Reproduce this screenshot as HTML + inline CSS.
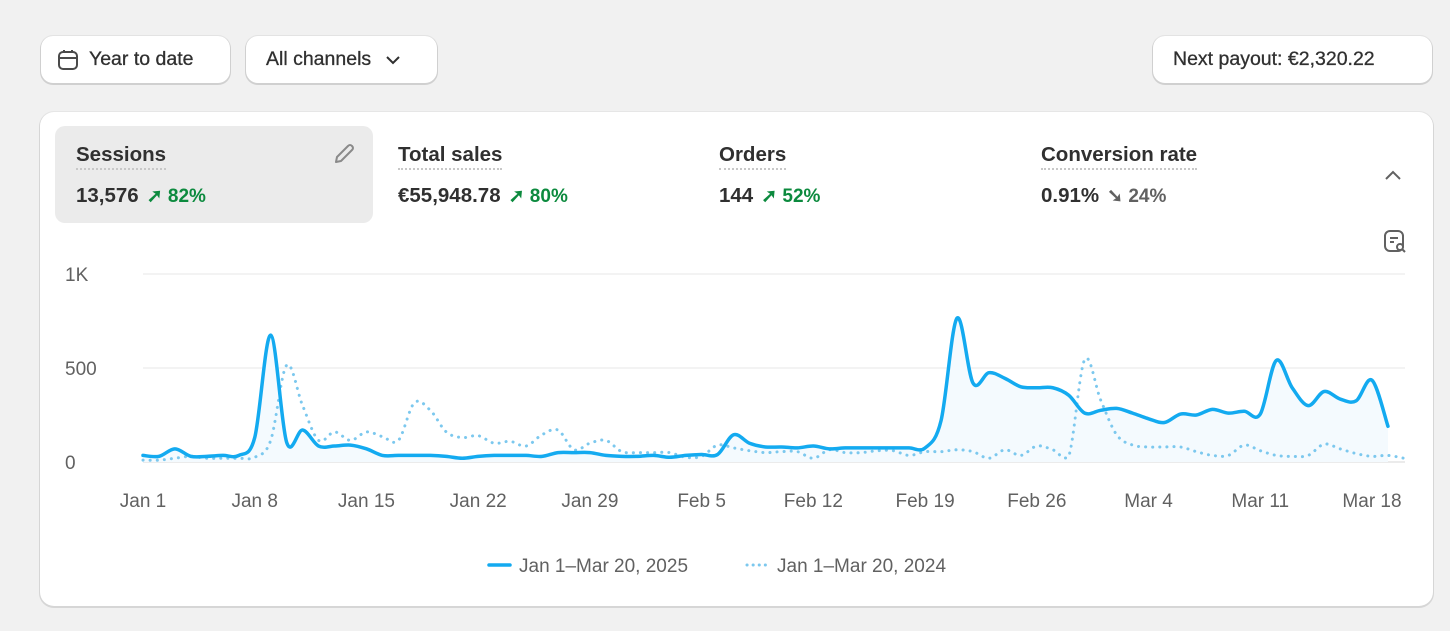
<!DOCTYPE html>
<html><head><meta charset="utf-8"><style>
*{box-sizing:border-box;margin:0;padding:0}
body{width:1450px;height:631px;background:#f1f1f1;font-family:"Liberation Sans",sans-serif;color:#303030;position:relative;overflow:hidden}
.btn{position:absolute;top:36px;height:47px;background:#fff;border-radius:12px;box-shadow:0 1px 0 1px #d0d0d0,0 0 0 1px #e3e3e3;font-size:19.5px;display:flex;align-items:center;color:#303030;-webkit-text-stroke:0.3px #303030}
.card{position:absolute;left:40px;top:112px;width:1393px;height:494px;background:#fff;border-radius:14px;box-shadow:0 1px 0 1px #d6d6d6,0 0 0 1px #e6e6e6}
.tab{position:absolute;top:126px;height:97px}
.tab .lbl{position:absolute;left:21px;top:17px;font-size:20.5px;font-weight:600;border-bottom:2px dotted #c8c8c8;padding-bottom:1px;line-height:24px}
.tab .val{position:absolute;left:21px;top:58px;font-size:20.5px;font-weight:600;white-space:nowrap;line-height:24px}
.up{color:#0c8a3e;font-size:19px;margin-left:8px}
.dn{color:#616161;font-size:19px;margin-left:8px}
svg text{font-family:"Liberation Sans",sans-serif}
</style></head><body>
<div class="btn" style="left:41px;width:189px;padding-left:16px">
<svg width="22" height="24" viewBox="0 0 22 24" style="margin-right:10px"><rect x="2" y="4" width="18" height="17" rx="4" fill="none" stroke="#4a4a4a" stroke-width="2"/><line x1="2" y1="10" x2="20" y2="10" stroke="#4a4a4a" stroke-width="2"/><line x1="7" y1="2" x2="7" y2="5" stroke="#4a4a4a" stroke-width="2"/><line x1="15" y1="2" x2="15" y2="5" stroke="#4a4a4a" stroke-width="2"/></svg>Year to date</div>
<div class="btn" style="left:246px;width:191px;padding-left:20px">All channels<svg width="16" height="10" viewBox="0 0 16 10" style="margin-left:14px"><path d="M2 2 L8 8 L14 2" fill="none" stroke="#303030" stroke-width="2"/></svg></div>
<div class="btn" style="left:1153px;width:279px;padding-left:20px">Next payout: €2,320.22</div>
<div class="card"></div>
<div class="tab" style="left:55px;width:318px;background:#ebebeb;border-radius:10px">
<div class="lbl">Sessions</div>
<svg width="26" height="26" viewBox="0 0 26 26" style="position:absolute;left:276px;top:15px"><path d="M5 21 L6 16 L17 5 Q19 3 21 5 Q23 7 21 9 L10 20 Z" fill="none" stroke="#8a8a8a" stroke-width="2" stroke-linejoin="round"/></svg>
<div class="val">13,576<span class="up">➚ 82%</span></div></div>
<div class="tab" style="left:377px;width:318px"><div class="lbl">Total sales</div><div class="val">€55,948.78<span class="up">➚ 80%</span></div></div>
<div class="tab" style="left:698px;width:318px"><div class="lbl">Orders</div><div class="val">144<span class="up">➚ 52%</span></div></div>
<div class="tab" style="left:1020px;width:318px"><div class="lbl">Conversion rate</div><div class="val">0.91%<span class="dn">➘ 24%</span></div></div>
<svg width="24" height="16" style="position:absolute;left:1382px;top:167px"><path d="M4 12 L11 5 L18 12" fill="none" stroke="#616161" stroke-width="2"/></svg>
<svg width="26" height="26" viewBox="0 0 26 26" style="position:absolute;left:1383px;top:229px"><rect x="2" y="2" width="18" height="20" rx="5" fill="none" stroke="#616161" stroke-width="2"/><line x1="7" y1="9" x2="15" y2="9" stroke="#616161" stroke-width="2"/><line x1="7" y1="13" x2="11" y2="13" stroke="#616161" stroke-width="2"/><circle cx="17" cy="18" r="3" fill="#fff" stroke="#616161" stroke-width="2"/><line x1="19" y1="20" x2="22" y2="23" stroke="#616161" stroke-width="2"/></svg>
<svg id="chart" width="1450" height="631" style="position:absolute;left:0;top:0"></svg>
<script>
const yTicks=[0,500,1000];
const yTickLabels=["0","500","1K"];
const xTickDays=[0,7,14,21,28,35,42,49,56,63,70,77];
const xTickLabels=["Jan 1","Jan 8","Jan 15","Jan 22","Jan 29","Feb 5","Feb 12","Feb 19","Feb 26","Mar 4","Mar 11","Mar 18"];
const sessions2025=[35,30,70,30,30,35,35,130,675,105,170,85,85,90,70,35,35,35,35,30,20,30,35,35,35,30,50,50,50,35,30,30,35,25,35,40,40,145,100,80,80,75,85,70,75,75,75,75,75,75,220,765,420,475,445,400,395,395,355,260,275,285,260,230,210,255,250,280,260,270,255,540,395,300,375,335,325,435,190];
const sessions2024=[10,10,20,30,20,20,20,25,115,515,300,115,160,115,160,135,115,315,275,160,130,140,100,110,85,145,170,65,100,115,55,50,50,50,25,30,90,75,60,50,55,55,20,65,50,50,60,60,35,55,55,65,55,20,65,35,85,65,30,545,330,145,90,80,80,80,55,35,35,90,60,35,30,35,95,70,45,30,35,20];
const NS="http://www.w3.org/2000/svg";
const svg=document.getElementById('chart');
const X0=143,DX=(1372-143)/77,Y0=462,YK=(462-274)/1000;
const xs=d=>X0+d*DX, ys=v=>Y0-v*YK;
function mk(t,a){const e=document.createElementNS(NS,t);for(const k in a)e.setAttribute(k,a[k]);svg.appendChild(e);return e;}
yTicks.forEach((v,i)=>{
 const l=mk('line',{x1:143,x2:1405,y1:ys(v),y2:ys(v),stroke:i==0?'#ebebeb':'#efefef','stroke-width':i==0?2:1.5});
 
 
 const t=mk('text',{x:65,y:ys(v)+7,'font-size':19,fill:'#616161'});t.textContent=yTickLabels[i];
 
 
});
xTickDays.forEach((d,i)=>{
 const t=mk('text',{x:xs(d),y:507,'font-size':19,fill:'#616161','text-anchor':'middle'});t.textContent=xTickLabels[i];
 
 
});
function path(arr){const p=arr.map((v,i)=>[xs(i),ys(v)]);let s='M'+p[0][0]+' '+p[0][1];
 for(let i=0;i<p.length-1;i++){const a=p[i-1]||p[i],b=p[i],c=p[i+1],d=p[i+2]||c;
  let c1y=b[1]+(c[1]-a[1])/6,c2y=c[1]-(d[1]-b[1])/6;
  c1y=Math.min(c1y,Y0);c2y=Math.min(c2y,Y0);
  s+=` C${b[0]+(c[0]-a[0])/6} ${c1y} ${c[0]-(d[0]-b[0])/6} ${c2y} ${c[0]} ${c[1]}`;}return s;}
const area=mk('path',{d:path(sessions2025)+` L${xs(sessions2025.length-1)} ${Y0} L${X0} ${Y0} Z`,fill:'#f4fafe'});


const l24=mk('path',{d:path(sessions2024),fill:'none',stroke:'#7cc8ee','stroke-width':3,'stroke-dasharray':'0.1 7','stroke-linecap':'round'});


const l25=mk('path',{d:path(sessions2025),fill:'none',stroke:'#13aaf0','stroke-width':3.5,'stroke-linecap':'round'});


const lg1=mk('line',{x1:489,x2:510,y1:565,y2:565,stroke:'#13aaf0','stroke-width':3.5,'stroke-linecap':'round'});


const t1=mk('text',{x:519,y:572,'font-size':19,fill:'#616161'});t1.textContent='Jan 1–Mar 20, 2025';


const lg2=mk('line',{x1:747,x2:768,y1:565,y2:565,stroke:'#7cc8ee','stroke-width':3,'stroke-dasharray':'0.1 6','stroke-linecap':'round'});


const t2=mk('text',{x:777,y:572,'font-size':19,fill:'#616161'});t2.textContent='Jan 1–Mar 20, 2024';


</script>
</body></html>
